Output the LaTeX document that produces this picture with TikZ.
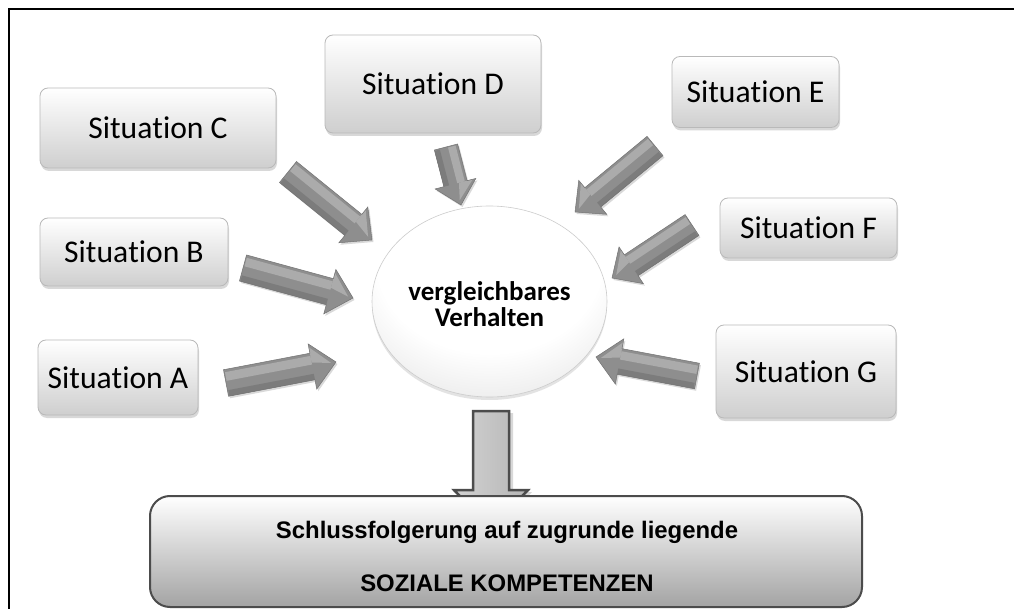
\documentclass[tikz,border=0pt]{standalone}
\usepackage{fontspec}
\setmainfont{Carlito}[Ligatures=NoCommon, RawFeature={-liga;-clig;-calt;-dlig}]
\newfontfamily\headfont{Liberation Sans}
\usetikzlibrary{shadows,calc,shapes.geometric}
\definecolor{arrbase}{HTML}{8E8E8E}
\definecolor{arrlight}{HTML}{ABABAB}
\definecolor{arrdark}{HTML}{7C7C7C}
\definecolor{arredge}{HTML}{737373}
\pgfdeclareradialshading{ellsh}{\pgfpoint{0bp}{16bp}}{%
  color(0bp)=(white); color(24bp)=(white); color(40bp)=(gray!22);
  color(52bp)=(gray!50); color(70bp)=(gray!50)}
\newcommand\sit[1]{Situa\kern0pt tion #1}

% block arrow from coordinate #1 (tail) to coordinate #2 (tip)
% #3 shaft width, #4 head width, #5 head length (all in px = pt)
\newcommand\blockarr[5]{%
  \pgfpointdiff{\pgfpointanchor{#1}{center}}{\pgfpointanchor{#2}{center}}%
  \pgfgetlastxy{\bax}{\bay}%
  \pgfmathsetmacro\baang{atan2(\bay,\bax)}%
  \pgfmathsetmacro\balen{veclen(\bax,\bay)}%
  \pgfmathsetmacro\bas{#3/2}%
  \pgfmathsetmacro\bah{#4/2}%
  \pgfmathsetmacro\bak{\balen-#5}%
  \pgfmathsetmacro\bsg{cos(\baang)>=0 ? 1 : -1}%
  \pgfmathsetmacro\bla{\bsg*\bas*0.15}%
  \pgfmathsetmacro\blb{\bsg*\bas*0.8}%
  \pgfmathsetmacro\blc{\bsg*\bah*0.85}%
  \pgfmathsetmacro\bld{\bsg*\bas*0.3}%
  \pgfmathsetmacro\ble{-\bsg*\bas*0.55}%
  \pgfmathsetmacro\blf{-\bsg*\bas}%
  \pgfmathsetmacro\blg{\balen-5}%
  \begin{scope}[shift={(#1)}, xshift=1.5pt, yshift=-2pt, rotate=\baang]
    \fill[black, opacity=0.15] (0pt,-\bas pt) -- (\bak pt,-\bas pt) -- (\bak pt,-\bah pt) -- (\balen pt,0pt) -- (\bak pt,\bah pt) -- (\bak pt,\bas pt) -- (0pt,\bas pt) -- cycle;
  \end{scope}
  \begin{scope}[shift={(#1)}, rotate=\baang]
    \fill[arrbase] (0pt,-\bas pt) -- (\bak pt,-\bas pt) -- (\bak pt,-\bah pt) -- (\balen pt,0pt) -- (\bak pt,\bah pt) -- (\bak pt,\bas pt) -- (0pt,\bas pt) -- cycle;
    \fill[arrlight] (1pt,\bla pt) -- (\bak pt,\bla pt) -- (\bak pt,\blb pt) -- (1pt,\blb pt) -- cycle;
    \fill[arrdark] (1pt,\ble pt) -- (\bak pt,\ble pt) -- (\bak pt,\blf pt) -- (1pt,\blf pt) -- cycle;
    \fill[arrlight] (\bak pt,\bld pt) -- (\bak pt,\blc pt) -- (\blg pt,0pt) -- cycle;
    \draw[arredge, line width=0.5pt] (0pt,-\bas pt) -- (\bak pt,-\bas pt) -- (\bak pt,-\bah pt) -- (\balen pt,0pt) -- (\bak pt,\bah pt) -- (\bak pt,\bas pt) -- (0pt,\bas pt) -- cycle;
  \end{scope}%
}

\begin{document}
\begin{tikzpicture}[x=1pt,y=-1pt,
  sitbox/.style={rectangle, rounded corners=8pt, draw=gray!55, line width=0.8pt,
    top color=white, bottom color=gray!38,
    drop shadow={shadow xshift=1pt, shadow yshift=-3pt, opacity=0.3},
    inner sep=0pt, text=black, font=\fontsize{31.6}{36}\selectfont},
  centre/.style={ellipse, draw=gray!40, line width=0.6pt,
    shading=ellsh,
    drop shadow={shadow xshift=0pt, shadow yshift=-3pt, opacity=0.22},
    minimum width=235pt, minimum height=191pt, inner sep=0pt},
  centretext/.style={inner sep=0pt, align=center, font=\fontsize{27}{26}\selectfont\bfseries},
  bigbox/.style={rectangle, rounded corners=20pt, draw=gray!60!black, line width=2pt,
    top color=white, bottom color=gray!72, inner sep=0pt},
  bigtext/.style={inner sep=0pt, font=\headfont\bfseries\fontsize{23.9}{28}\selectfont},
  downarr/.style={left color=gray!35, right color=gray!58, draw=gray!60!black, line width=2.5pt,
    drop shadow={shadow xshift=4pt, shadow yshift=-2pt, opacity=0.3}}
]
\useasboundingbox (0,0) rectangle (1014,609);
\fill[white] (0,0) rectangle (1014,609);

% frame (only top and left edges visible)
\draw[line width=2.5pt] (8.8,609) -- (8.8,8.8) -- (1014,8.8);

% situation boxes
\node[sitbox, minimum width=236pt, minimum height=80pt] (C) at (158,128) {\sit{C}};
\node[sitbox, minimum width=216pt, minimum height=98pt] (D) at (433,84) {\sit{D}};
\node[sitbox, minimum width=167pt, minimum height=71pt] (E) at (755.5,92) {\sit{E}};
\node[sitbox, minimum width=177pt, minimum height=60pt] (F) at (808.5,228) {\sit{F}};
\node[sitbox, minimum width=188pt, minimum height=68pt] (B) at (134,252) {\sit{B}};
\node[sitbox, minimum width=160pt, minimum height=75pt] (A) at (118,377.5) {\sit{A}};
\node[sitbox, minimum width=180pt, minimum height=93pt] (G) at (806,371.5) {\sit{G}};

% central ellipse
\node[centre, shade] (V) at (489.5,301.5) {};
\node[centretext] (VT) at (489.5,304) {vergleichbares\\Verhalten};

% arrow end points
\coordinate (aT) at (226,383); \coordinate (aH) at (336,362);
\coordinate (bT) at (243,268); \coordinate (bH) at (353,298);
\coordinate (cT) at (288,172); \coordinate (cH) at (372,240);
\coordinate (dT) at (446,147); \coordinate (dH) at (461,205);
\coordinate (eT) at (655,146); \coordinate (eH) at (575,212);
\coordinate (fT) at (692,225); \coordinate (fH) at (612,278);
\coordinate (gT) at (697,376); \coordinate (gH) at (596,357);

\blockarr{aT}{aH}{27}{46}{24}
\blockarr{bT}{bH}{27}{46}{24}
\blockarr{cT}{cH}{27}{46}{24}
\blockarr{dT}{dH}{24}{42}{22}
\blockarr{eT}{eH}{25}{44}{23}
\blockarr{fT}{fH}{25}{44}{23}
\blockarr{gT}{gH}{26}{46}{24}

% downward arrow to conclusion box
\coordinate (vT) at (491,411);
\coordinate (vH) at (491,528);
\draw[downarr] ($(vT)+(-18,0)$) -- ($(vT)+(18,0)$) -- ($(vH)+(18,-38)$) -- ($(vH)+(37,-38)$)
  -- (vH) -- ($(vH)+(-37,-38)$) -- ($(vH)+(-18,-38)$) -- cycle;

% conclusion box
\node[bigbox, minimum width=712pt, minimum height=111pt] (S) at (506,551.5) {};
\node[bigtext] (S1) at (507,532) {Schlussfolgerung auf zugrunde liegende};
\node[bigtext] (S2) at (507,583) {SOZIALE KOMPETENZEN};
\end{tikzpicture}
\end{document}
